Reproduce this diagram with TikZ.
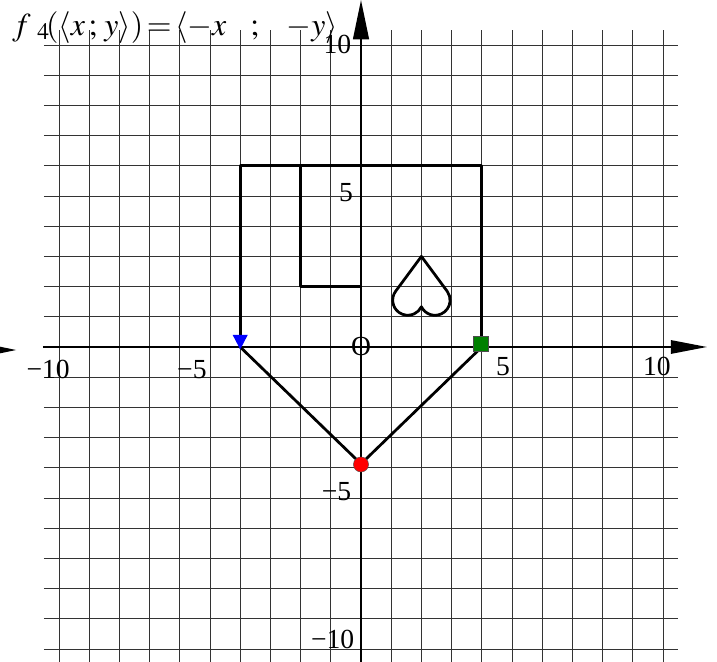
\documentclass[tikz,border=0pt]{standalone}
\usepackage{mathptmx}
\usepackage{fontspec}
\setmainfont{Liberation Serif}
\usetikzlibrary{arrows.meta}

\begin{document}
\begin{tikzpicture}[>=Stealth,
  gridline/.style={gray!40!black, line width=0.8pt},
  figline/.style={line width=2.6pt, line join=round},
  lbl/.style={inner sep=0pt, font=\fontsize{26}{30}\selectfont}]
\useasboundingbox (-11.954,-10.43) rectangle (11.788,11.49);
% grid
\foreach \i in {-10,...,10} {
  \draw[gridline] (\i,-10.5) -- (\i,10.5);
  \draw[gridline] (-10.5,\i) -- (10.5,\i);
}
% axes
\draw[line width=2pt, -{Triangle[length=12mm,width=4.4mm]}] (-10.53,0) -- (11.46,0);
\draw[line width=2pt, -{Triangle[length=13mm,width=5.2mm]}] (0,-10.6) -- (0,11.49);
\fill (-11.954,0.01) -- (-11.42,-0.1) -- (-11.954,-0.21) -- cycle;
\node[lbl] (xm10) at (-10.36,-0.76) {−10};
\node[lbl] (xm5) at (-5.6,-0.76) {−5};
\node[lbl] (xp5) at (4.7,-0.66) {5};
\node[lbl] (xp10) at (9.8,-0.66) {10};
\node[lbl] (yp10) at (-0.78,10.03) {10};
\node[lbl] (yp5) at (-0.5,5.1) {5};
\node[lbl] (ym5) at (-0.81,-4.78) {−5};
\node[lbl] (ym10) at (-0.94,-9.7) {−10};
\node[lbl] (orig) at (0,0.01) {O};
% title
\node[lbl, font=\fontsize{30}{34}\selectfont, anchor=base west] (title) at (-11.55,10.33)
  {$f_{\;\;4}\!(\langle x\,;\,y\rangle)\!=\!\langle -x\ \ \ ;\ \ \ -y\rangle$};
% figure
\draw[figline] (-4,0) -- (-4,6) -- (4,6) -- (4,0);
\draw[figline] (-4,0) -- (0,-3.87) -- (4,0);
\draw[figline] (-2,2) rectangle (0,6);
% heart
\draw[figline] (2,3) -- (1.1455,1.8439) arc[start angle=144, end angle=334.2, radius=0.5]
  arc[start angle=205.8, end angle=396, radius=0.5] -- cycle;
% markers
\fill[blue] (-4.25,0.4) -- (-3.75,0.4) -- (-4,-0.08) -- cycle;
\filldraw[fill={rgb,255:red,0;green,128;blue,0}, draw=black!70, line width=0.4pt] (3.71,-0.13) rectangle (4.21,0.37);
\filldraw[fill=red, draw=black!70, line width=0.4pt] (0,-3.89) circle (0.25);
\end{tikzpicture}
\end{document}
